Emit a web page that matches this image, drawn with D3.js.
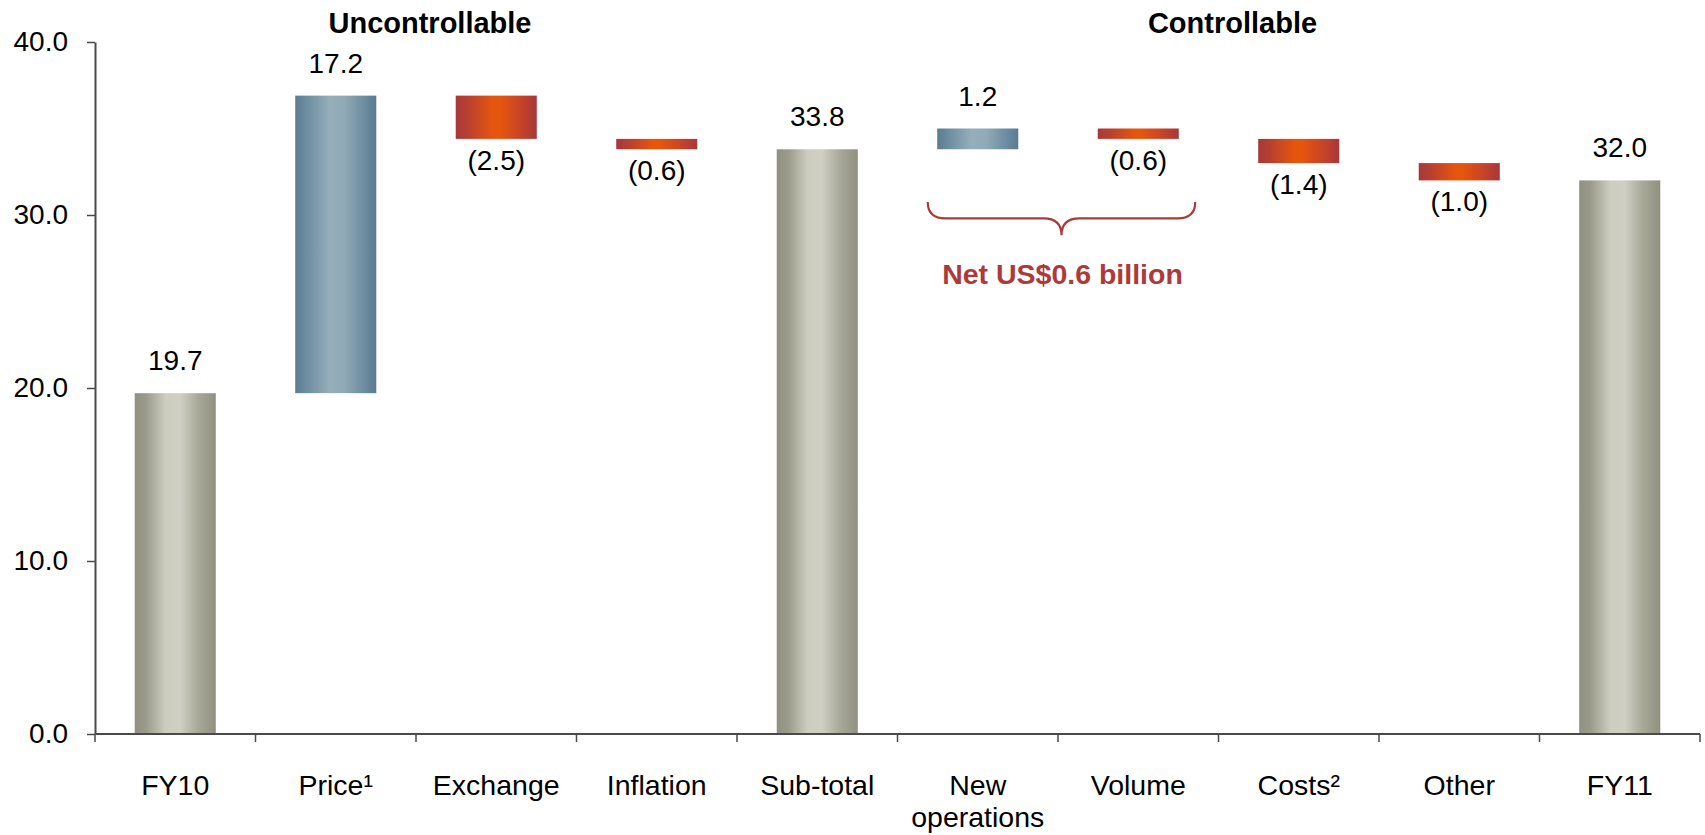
<!DOCTYPE html>
<html>
<head>
<meta charset="utf-8">
<script src="https://cdn.jsdelivr.net/npm/d3@7"></script>
<style>
  html, body { margin: 0; padding: 0; background: #ffffff; }
  svg { display: block; }
  text { font-family: "Liberation Sans", Arial, sans-serif; }
</style>
</head>
<body>
<svg id="chart" width="1705" height="835"></svg>
<script>
// ---- data ----
const categories = ["FY10", "Price\u00B9", "Exchange", "Inflation", "Sub-total", "New operations", "Volume", "Costs\u00B2", "Other", "FY11"];
const values     = [19.7, 17.2, -2.5, -0.6, 33.8, 1.2, -0.6, -1.4, -1.0, 32.0];
const kinds      = ["total", "delta", "delta", "delta", "total", "delta", "delta", "delta", "delta", "total"];
const valueLabels = ["19.7", "17.2", "(2.5)", "(0.6)", "33.8", "1.2", "(0.6)", "(1.4)", "(1.0)", "32.0"];
const yTicks = [0, 10, 20, 30, 40];
const groupNames = ["Uncontrollable", "Controllable"];
const groupAfter = ["Price\u00B9", "Volume"];   // header sits just right of this category's slot
const netLabel = "Net US$0.6 billion";
const netSpan = ["New operations", "Volume"];

// ---- build waterfall ----
let running = 0;
const bars = categories.map((c, i) => {
  let lo, hi;
  if (kinds[i] === "total") { lo = 0; hi = values[i]; running = values[i]; }
  else { const start = running; running = running + values[i]; lo = Math.min(start, running); hi = Math.max(start, running); }
  return { cat: c, value: values[i], kind: kinds[i], lo, hi, label: valueLabels[i] };
});

// ---- layout ----
const svg = d3.select("#chart");
const x = d3.scaleBand().domain(categories).range([95, 1700]).paddingInner(0).paddingOuter(0);
const y = d3.scaleLinear().domain([0, 40]).range([734, 42]);
const barW = x.bandwidth() * 0.505;

// ---- gradients ----
const defs = svg.append("defs");
function grad(id, stops) {
  const g = defs.append("linearGradient").attr("id", id).attr("x1", "0%").attr("x2", "100%").attr("y1", "0%").attr("y2", "0%");
  stops.forEach(s => g.append("stop").attr("offset", s[0]).attr("stop-color", s[1]));
}
grad("gTotal", [["0%", "#8f9080"], ["14%", "#9a9b8a"], ["38%", "#cdcdc0"], ["56%", "#cfcfc3"], ["78%", "#a8a999"], ["100%", "#8f9080"]]);
grad("gUp",    [["0%", "#5b7c91"], ["12%", "#6a8a9e"], ["42%", "#95aebb"], ["60%", "#91aab7"], ["86%", "#6c8ba0"], ["100%", "#5a7b90"]]);
grad("gDown",  [["0%", "#a6383a"], ["15%", "#b8402f"], ["45%", "#e4560f"], ["55%", "#e5550e"], ["85%", "#c0402c"], ["100%", "#a6383a"]]);

// ---- axes ----
const axisColor = "#4a4a4a";
const yAxis = d3.axisLeft(y).tickValues(yTicks).tickFormat(d3.format(".1f")).tickSizeInner(8).tickSizeOuter(0).tickPadding(19);
const gy = svg.append("g").attr("transform", "translate(95,0)").call(yAxis);
gy.select(".domain").attr("stroke", axisColor).attr("stroke-width", 2);
gy.selectAll(".tick line").attr("stroke", axisColor).attr("stroke-width", 1.5);
gy.selectAll(".tick text").attr("font-size", 28).attr("fill", "#000").style("font-family", "'Liberation Sans', Arial, sans-serif");

// bars
svg.append("g").selectAll("rect").data(bars).join("rect")
  .attr("x", d => x(d.cat) + x.bandwidth() / 2 - barW / 2)
  .attr("width", barW)
  .attr("y", d => y(d.hi))
  .attr("height", d => y(d.lo) - y(d.hi))
  .attr("fill", d => d.kind === "total" ? "url(#gTotal)" : (d.value >= 0 ? "url(#gUp)" : "url(#gDown)"));

// x axis line and boundary ticks
const boundaries = categories.map(c => x(c)).concat([x.range()[1]]);
const gx = svg.append("g");
gx.append("line").attr("x1", x.range()[0]).attr("x2", x.range()[1]).attr("y1", y(0)).attr("y2", y(0))
  .attr("stroke", axisColor).attr("stroke-width", 2);
gx.selectAll("line.bt").data(boundaries).join("line").attr("class", "bt")
  .attr("x1", d => d).attr("x2", d => d).attr("y1", y(0)).attr("y2", y(0) + 8)
  .attr("stroke", axisColor).attr("stroke-width", 1.5);

// category labels
const catText = gx.selectAll("text.cat").data(categories).join("text").attr("class", "cat")
  .attr("x", d => x(d) + x.bandwidth() / 2)
  .attr("y", y(0) + 61)
  .attr("text-anchor", "middle").attr("font-size", 28.5).attr("fill", "#000");
catText.each(function(d) {
  const words = d.split(" ");
  const t = d3.select(this);
  words.forEach((w, i) => {
    t.append("tspan").attr("x", x(d) + x.bandwidth() / 2).attr("dy", i === 0 ? 0 : 32).text(w);
  });
});

// value labels
svg.append("g").selectAll("text").data(bars).join("text")
  .attr("x", d => x(d.cat) + x.bandwidth() / 2)
  .attr("y", d => (d.value >= 0) ? y(d.hi) - 23 : y(d.lo) + 31)
  .attr("text-anchor", "middle").attr("font-size", 28).attr("fill", "#000")
  .text(d => d.label);

// group headers
svg.append("g").selectAll("text").data(groupNames).join("text")
  .attr("x", (d, i) => x(groupAfter[i]) + x.bandwidth() + 14)
  .attr("y", 33)
  .attr("text-anchor", "middle").attr("font-size", 29).attr("font-weight", "bold").attr("fill", "#000")
  .text(d => d);

// brace annotation
const red = "#ad3a3a";
const cL = x(netSpan[0]) + x.bandwidth() / 2;
const cR = x(netSpan[1]) + x.bandwidth() / 2;
const bL = cL - 50, bR = cR + 57, bM = (bL + bR) / 2;
const yTop = y(30.75), yMid = y(29.8), yTip = y(28.83);
const r = 18;
const bracePath = [
  `M${bL},${yTop}`,
  `Q${bL},${yMid} ${bL + r},${yMid}`,
  `L${bM - r},${yMid}`,
  `Q${bM},${yMid} ${bM},${yTip}`,
  `Q${bM},${yMid} ${bM + r},${yMid}`,
  `L${bR - r},${yMid}`,
  `Q${bR},${yMid} ${bR},${yTop}`
].join(" ");
svg.append("path").attr("d", bracePath).attr("fill", "none").attr("stroke", red).attr("stroke-width", 2.2);
svg.append("text").attr("x", bM + 1).attr("y", y(26.0))
  .attr("text-anchor", "middle").attr("font-size", 28.5).attr("font-weight", "bold").attr("fill", red)
  .text(netLabel);
</script>
</body>
</html>
